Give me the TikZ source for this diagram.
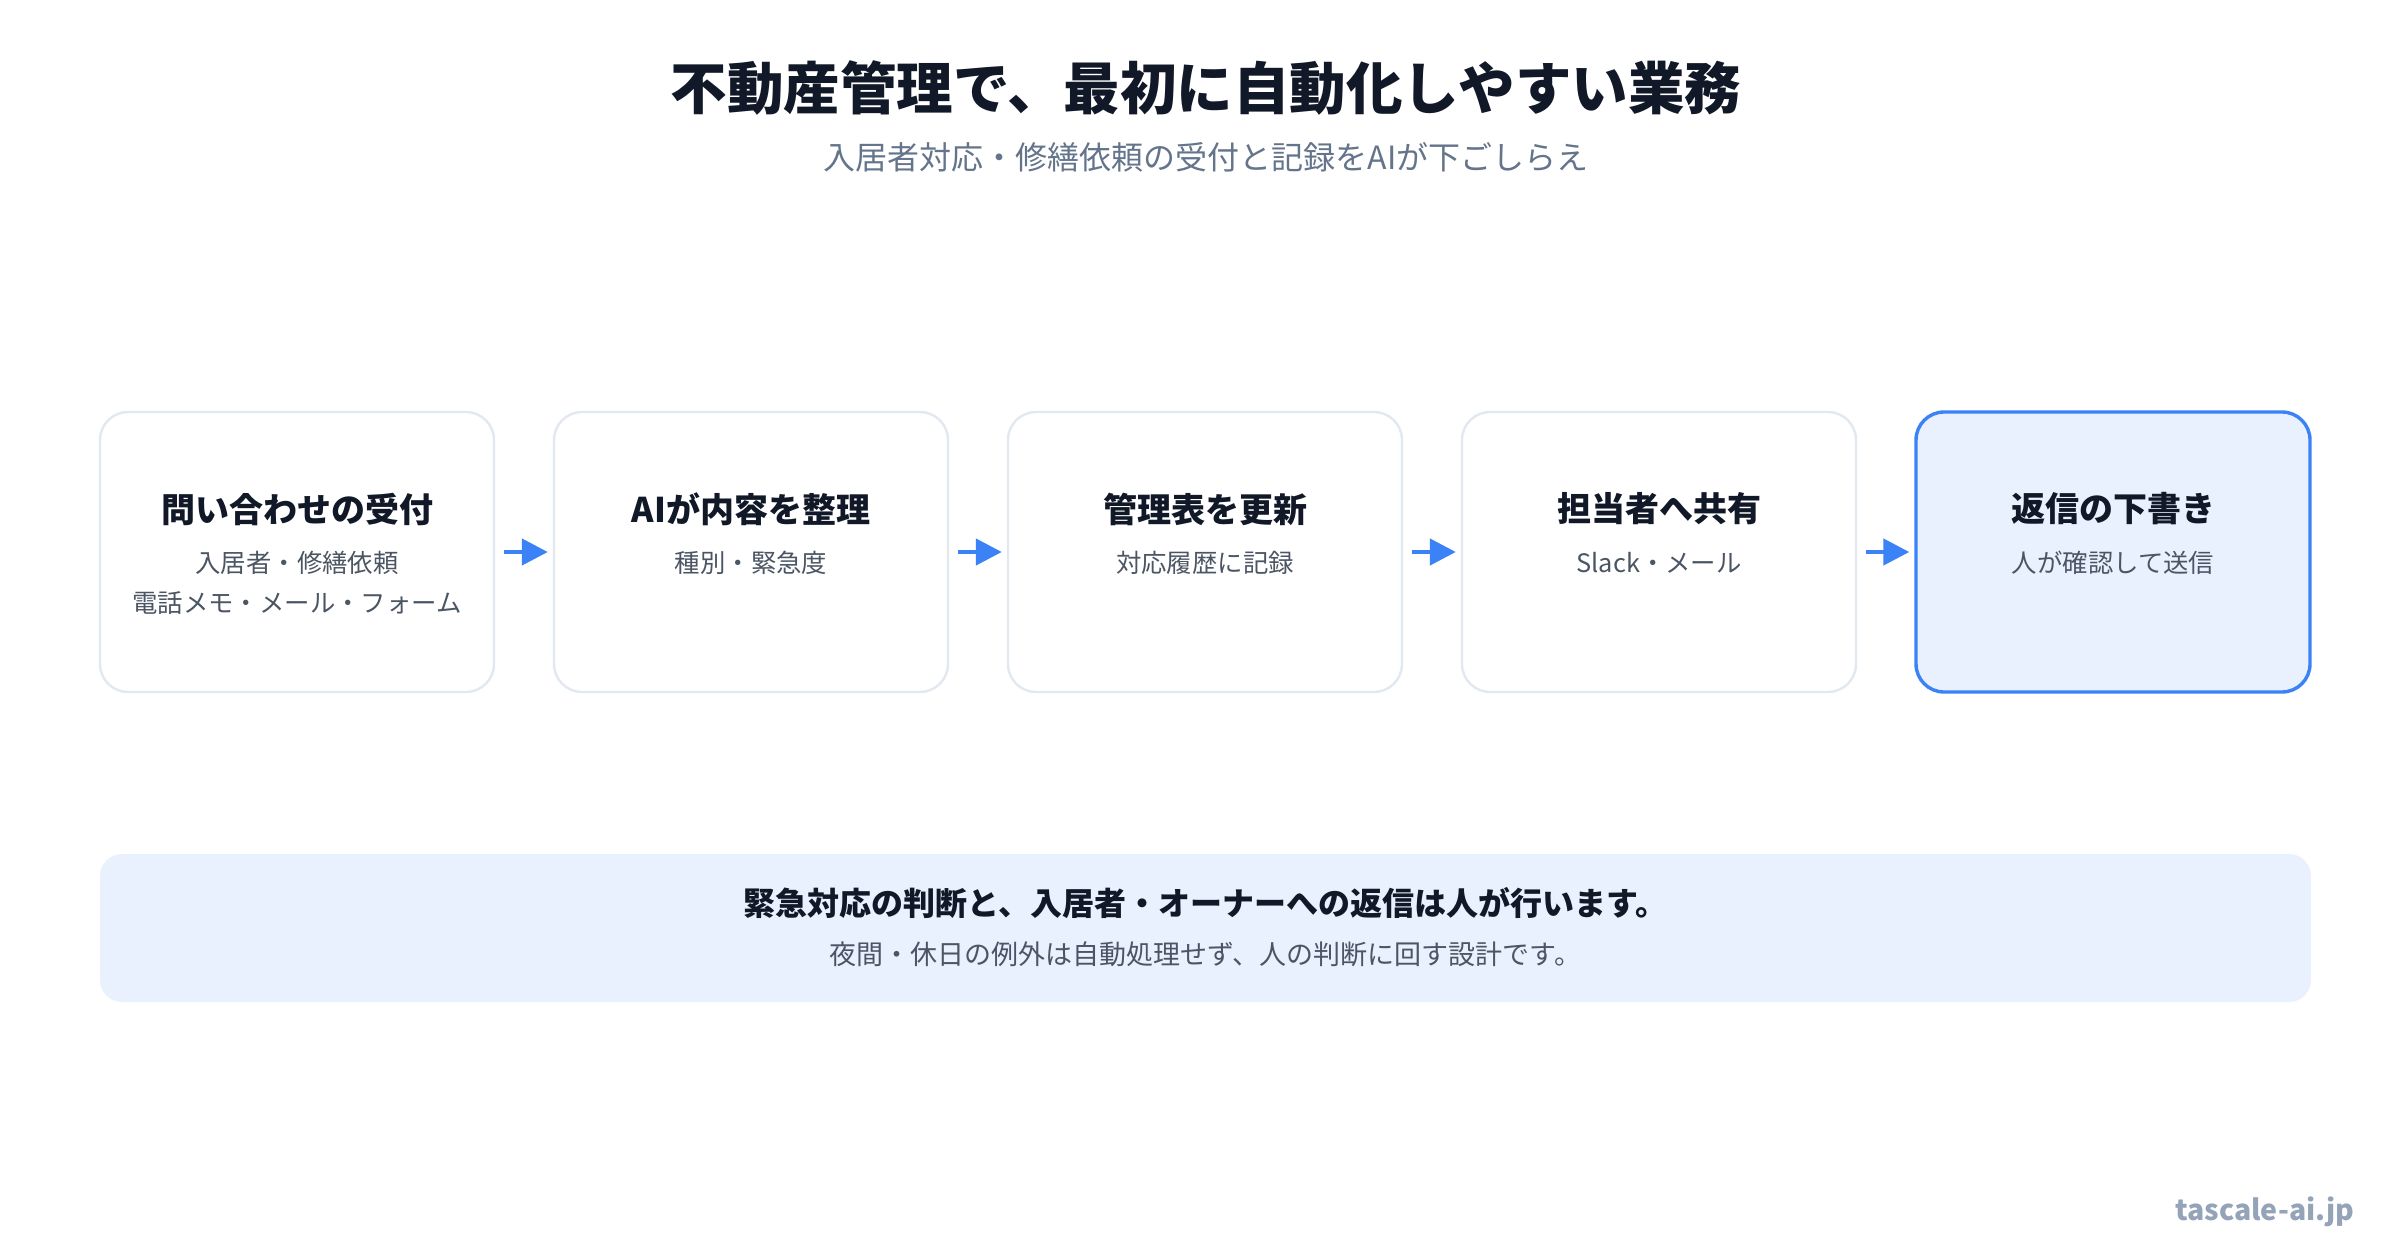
\documentclass[tikz,border=0pt]{standalone}
\usepackage{fontspec}
\setmainfont{Noto Sans CJK JP}
\usepackage{xcolor}
\usepackage{tikz}
\usetikzlibrary{arrows.meta,positioning}
\definecolor{inkdark}{HTML}{111827}
\definecolor{inkgray}{HTML}{64748B}
\definecolor{subgray}{HTML}{4B5563}
\definecolor{edgegray}{HTML}{E2E8F0}
\definecolor{flowblue}{HTML}{3B82F6}
\definecolor{paleblue}{HTML}{E9F1FE}
\definecolor{footgray}{HTML}{94A3B8}
\tikzset{stepbox/.style={draw=edgegray, line width=2.4pt, fill=white, rounded corners=28pt,
    minimum width=394pt, minimum height=280pt},
  steptitle/.style={text=inkdark, font=\fontsize{34}{40}\selectfont\bfseries},
  stepnote/.style={text=subgray, font=\fontsize{25.4}{30}\selectfont},
  flow/.style={draw=flowblue, line width=4.5pt, -{Triangle[length=26pt,width=26pt]},
    shorten <=9pt, shorten >=5pt}}

\begin{document}
\begin{tikzpicture}[x=1pt,y=-1pt,inner sep=0pt]
   \useasboundingbox[fill=white] (0,0) rectangle (2400,1260);
   % heading
   \node[text=inkdark, font=\fontsize{56.5}{64}\selectfont\bfseries] (head) at (1206,88) {不動産管理で、最初に自動化しやすい業務};
   \node[text=inkgray, font=\fontsize{32}{38}\selectfont] (subhead) at (1206,157) {入居者対応・修繕依頼の受付と記録をAIが下ごしらえ};
   % flow of steps
   \node[stepbox] (b1) at (297,552) {};
   \node[stepbox] (b2) at (751,552) {};
   \node[stepbox] (b3) at (1205,552) {};
   \node[stepbox] (b4) at (1659,552) {};
   \node[stepbox, draw=flowblue, fill=paleblue, line width=3.4pt] (b5) at (2113,552) {};
    \node[steptitle] (t1) at ([yshift=43pt]b1.center) {問い合わせの受付};
    \node[stepnote] (n1) at ([yshift=-11pt]b1.center) {入居者・修繕依頼};
    \node[stepnote] (m1) at ([yshift=-51pt]b1.center) {電話メモ・メール・フォーム};
    \node[steptitle] (t2) at ([yshift=43pt]b2.center) {AIが内容を整理};
    \node[stepnote] (n2) at ([yshift=-11pt]b2.center) {種別・緊急度};
    \node[steptitle] (t3) at ([yshift=43pt]b3.center) {管理表を更新};
    \node[stepnote] (n3) at ([yshift=-11pt]b3.center) {対応履歴に記録};
    \node[steptitle] (t4) at ([yshift=43pt]b4.center) {担当者へ共有};
    \node[stepnote] (n4) at ([yshift=-11pt]b4.center) {Slack・メール};
    \node[steptitle] (t5) at ([yshift=43pt]b5.center) {返信の下書き};
    \node[stepnote] (n5) at ([yshift=-11pt]b5.center) {人が確認して送信};
   \draw[flow] (b1) -- (b2);
   \draw[flow] (b2) -- (b3);
   \draw[flow] (b3) -- (b4);
   \draw[flow] (b4) -- (b5);
   % note at the bottom
   \node[fill=paleblue, rounded corners=22pt, minimum width=2211pt, minimum height=148pt] (band) at (1205.5,928) {};
    \node[text=inkdark, font=\fontsize{32}{38}\selectfont\bfseries] (bandhead) at ([yshift=25pt]band.center) {緊急対応の判断と、入居者・オーナーへの返信は人が行います。};
    \node[text=subgray, font=\fontsize{27}{32}\selectfont] (bandnote) at ([yshift=-26pt]band.center) {夜間・休日の例外は自動処理せず、人の判断に回す設計です。};
   \node[text=footgray, font=\fontsize{28.5}{34}\selectfont\bfseries] (site) at (2265,1212) {tascale-ai.jp};
\end{tikzpicture}
\end{document}
